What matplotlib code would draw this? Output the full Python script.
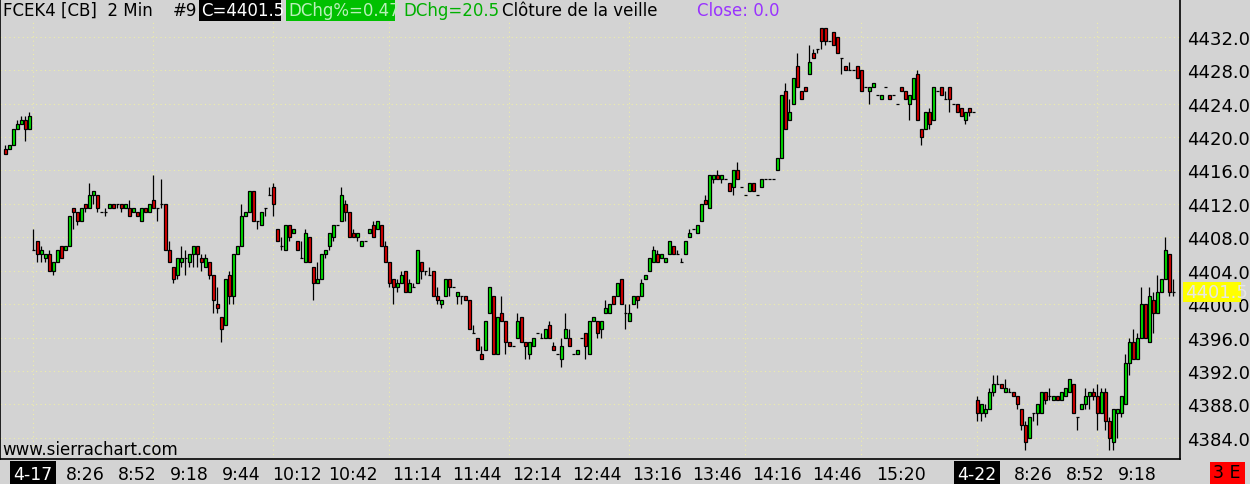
import matplotlib
matplotlib.use("Agg")
import matplotlib.pyplot as plt
from matplotlib.patches import Rectangle

plt.rcParams['font.family'] = ['Liberation Sans Narrow', 'DejaVu Sans']

# Données OHLC des barres de 2 minutes
opens = [
    4418.5, 4418.5, 4419.0, 4421.0, 4421.5, 4422.0, 4421.0, 4406.5, 4407.5, 4406.0,
    4405.5, 4406.0, 4404.0, 4405.0, 4407.0, 4406.5, 4407.0, 4411.5, 4411.0, 4410.0,
    4412.0, 4411.5, 4413.0, 4413.0, 4411.0, 4411.0, 4411.5, 4412.0, 4412.0, 4412.0,
    4411.5, 4411.5, 4411.0, 4411.0, 4410.0, 4411.5, 4411.0, 4412.5, 4411.5, 4412.0,
    4412.0, 4406.5, 4404.5, 4403.5, 4405.0, 4405.5, 4405.0, 4406.0, 4407.0, 4405.5,
    4404.5, 4405.0, 4403.5, 4400.0, 4398.5, 4397.5, 4403.5, 4401.0, 4406.0, 4407.0,
    4410.5, 4411.0, 4413.5, 4410.0, 4409.5, 4411.5, 4413.0, 4414.0, 4409.0, 4407.0,
    4406.5, 4409.5, 4408.5, 4407.5, 4405.5, 4405.0, 4408.0, 4404.5, 4402.5, 4403.0,
    4406.0, 4407.0, 4408.0, 4409.5, 4410.0, 4412.0, 4411.0, 4408.5, 4408.0, 4407.0,
    4407.5, 4408.5, 4409.5, 4409.0, 4409.5, 4407.0, 4405.0, 4403.0, 4402.0, 4402.5,
    4404.0, 4401.5, 4402.0, 4402.5, 4405.0, 4404.0, 4403.5, 4404.0, 4401.0, 4400.0,
    4401.0, 4403.0, 4402.0, 4401.0, 4401.0, 4401.0, 4400.5, 4396.5, 4396.0, 4394.0,
    4394.5, 4399.0, 4401.0, 4394.0, 4399.0, 4398.0, 4395.5, 4395.0, 4396.0, 4398.5,
    4395.5, 4394.0, 4395.0, 4396.5, 4396.0, 4396.0, 4397.5, 4395.0, 4394.0, 4393.5,
    4396.0, 4396.0, 4394.0, 4394.0, 4396.0, 4396.5, 4394.0, 4398.0, 4398.0, 4397.0,
    4399.0, 4399.0, 4401.0, 4401.0, 4403.0, 4399.0, 4398.0, 4400.0, 4401.0, 4401.0,
    4403.0, 4404.0, 4405.0, 4406.0, 4405.5, 4405.0, 4406.0, 4407.0, 4406.0, 4405.0,
    4406.0, 4408.0, 4409.0, 4408.5, 4410.0, 4412.5, 4411.5, 4415.0, 4415.5, 4415.0,
    4415.0, 4414.5, 4414.0, 4416.0, 4414.0, 4413.0, 4413.5, 4414.5, 4413.0, 4414.0,
    4415.0, 4415.0, 4415.0, 4416.0, 4417.5, 4425.5, 4422.0, 4424.0, 4428.5, 4425.5,
    4426.0, 4427.5, 4430.0, 4430.5, 4433.0, 4433.0, 4431.5, 4432.5, 4432.0, 4429.5,
    4428.5, 4428.0, 4428.0, 4428.5, 4428.0, 4426.0, 4425.5, 4426.0, 4425.0, 4424.5,
    4426.0, 4425.0, 4425.0, 4424.0, 4426.0, 4425.5, 4424.0, 4424.5, 4427.5, 4421.0,
    4421.0, 4423.0, 4422.0, 4425.5, 4426.0, 4424.5, 4426.0, 4424.0, 4424.0, 4423.5,
    4422.0, 4423.5, 4423.0, 4388.5, 4387.0, 4387.0, 4387.5, 4389.5, 4390.5, 4390.5,
    4389.5, 4389.5, 4389.5, 4389.0, 4387.5, 4385.5, 4384.0, 4387.0, 4387.0, 4387.0,
    4389.5, 4389.0, 4388.5, 4389.0, 4388.5, 4389.0, 4389.5, 4390.5, 4386.5, 4387.5,
    4388.0, 4389.0, 4389.5, 4389.0, 4387.0, 4389.5, 4386.0, 4383.5, 4387.0, 4387.0,
    4388.0, 4393.0, 4395.5, 4393.5, 4396.0, 4400.0, 4395.5, 4400.5, 4399.0, 4401.5,
    4403.0, 4406.0, 4401.5,
]
highs = [
    4419.0, 4419.0, 4421.0, 4422.0, 4422.5, 4422.5, 4423.0, 4409.0, 4407.5, 4407.0,
    4406.0, 4406.5, 4405.0, 4406.5, 4407.0, 4407.0, 4410.5, 4411.5, 4411.0, 4411.5,
    4412.0, 4414.5, 4413.5, 4413.0, 4411.0, 4411.5, 4412.0, 4412.0, 4412.0, 4412.0,
    4412.0, 4412.5, 4411.5, 4411.0, 4411.5, 4411.5, 4412.0, 4415.5, 4411.5, 4415.0,
    4412.0, 4407.5, 4404.5, 4405.5, 4407.0, 4406.5, 4406.0, 4407.0, 4407.0, 4406.0,
    4406.0, 4405.0, 4403.5, 4402.0, 4398.5, 4403.0, 4404.0, 4406.0, 4407.0, 4412.0,
    4411.0, 4413.5, 4413.5, 4410.0, 4411.0, 4411.5, 4414.0, 4414.5, 4409.0, 4408.0,
    4409.5, 4409.5, 4409.0, 4407.5, 4407.5, 4409.0, 4408.0, 4404.5, 4405.0, 4406.0,
    4406.5, 4408.5, 4409.5, 4409.5, 4414.0, 4412.5, 4411.0, 4409.0, 4408.5, 4407.5,
    4407.5, 4409.0, 4410.0, 4410.0, 4409.5, 4407.5, 4405.0, 4403.0, 4403.0, 4404.0,
    4404.0, 4403.0, 4402.5, 4406.5, 4405.0, 4404.0, 4404.5, 4404.0, 4402.0, 4400.5,
    4403.0, 4403.0, 4402.0, 4401.5, 4401.0, 4401.0, 4400.5, 4397.5, 4396.0, 4395.0,
    4398.0, 4402.0, 4401.0, 4398.5, 4401.0, 4398.0, 4395.5, 4395.0, 4399.0, 4398.5,
    4395.5, 4395.5, 4396.0, 4396.5, 4396.5, 4397.0, 4398.0, 4395.5, 4394.0, 4396.0,
    4399.0, 4397.0, 4394.0, 4394.5, 4396.0, 4396.5, 4398.0, 4398.5, 4398.0, 4398.0,
    4400.5, 4400.0, 4401.0, 4402.5, 4403.0, 4400.0, 4400.0, 4401.0, 4401.0, 4403.0,
    4403.5, 4405.5, 4407.0, 4406.5, 4406.0, 4405.5, 4407.5, 4407.0, 4406.5, 4405.5,
    4407.5, 4409.0, 4409.0, 4409.5, 4412.0, 4413.0, 4415.5, 4415.5, 4416.0, 4415.5,
    4415.0, 4414.5, 4416.0, 4417.0, 4414.0, 4413.0, 4414.5, 4414.5, 4413.0, 4415.0,
    4415.0, 4415.0, 4415.0, 4417.5, 4425.0, 4426.5, 4424.5, 4427.0, 4430.0, 4425.5,
    4426.0, 4431.0, 4430.5, 4430.5, 4433.0, 4433.0, 4431.5, 4432.5, 4432.0, 4429.5,
    4428.5, 4429.0, 4428.0, 4428.5, 4428.0, 4426.0, 4426.0, 4426.5, 4425.0, 4425.0,
    4426.0, 4425.0, 4425.0, 4424.0, 4426.0, 4425.5, 4425.0, 4427.0, 4428.0, 4421.0,
    4423.0, 4423.5, 4426.0, 4425.5, 4426.0, 4425.5, 4426.0, 4424.0, 4424.0, 4423.5,
    4423.0, 4423.5, 4423.0, 4389.0, 4388.0, 4388.0, 4390.0, 4391.5, 4391.5, 4390.5,
    4391.0, 4390.0, 4389.5, 4389.0, 4387.5, 4386.0, 4386.5, 4387.0, 4388.0, 4389.5,
    4389.5, 4390.0, 4389.0, 4389.0, 4389.5, 4390.0, 4391.0, 4390.5, 4386.5, 4388.0,
    4390.0, 4389.5, 4390.0, 4390.5, 4390.0, 4390.0, 4386.5, 4387.5, 4387.5, 4389.0,
    4394.0, 4396.0, 4397.0, 4396.5, 4402.0, 4400.0, 4402.0, 4401.5, 4403.5, 4403.0,
    4408.0, 4406.0, 4403.0,
]
lows = [
    4418.0, 4418.5, 4419.0, 4421.0, 4421.5, 4419.5, 4421.0, 4406.5, 4405.0, 4405.0,
    4405.0, 4404.0, 4403.5, 4405.0, 4405.5, 4406.5, 4407.0, 4409.0, 4409.5, 4410.0,
    4411.0, 4411.5, 4412.0, 4411.0, 4411.0, 4410.5, 4411.5, 4411.5, 4411.5, 4411.0,
    4411.5, 4410.5, 4411.0, 4410.5, 4410.0, 4411.0, 4411.0, 4411.5, 4410.0, 4411.5,
    4406.5, 4405.0, 4402.5, 4403.0, 4404.5, 4403.5, 4404.5, 4404.5, 4404.5, 4404.0,
    4404.5, 4403.0, 4399.0, 4399.0, 4395.5, 4397.5, 4400.0, 4400.0, 4406.0, 4407.0,
    4410.5, 4411.0, 4410.0, 4409.0, 4409.5, 4410.5, 4413.0, 4410.5, 4407.5, 4406.5,
    4406.5, 4407.5, 4408.5, 4406.5, 4405.5, 4405.0, 4405.0, 4400.5, 4402.5, 4403.0,
    4405.5, 4406.5, 4407.5, 4409.5, 4410.0, 4410.0, 4408.0, 4408.0, 4407.5, 4407.0,
    4407.5, 4408.5, 4408.0, 4409.0, 4407.0, 4405.0, 4402.0, 4400.0, 4401.5, 4402.5,
    4401.5, 4401.5, 4402.0, 4402.5, 4403.0, 4403.5, 4403.5, 4401.0, 4400.0, 4399.5,
    4401.0, 4401.0, 4402.0, 4400.0, 4400.0, 4400.5, 4397.0, 4396.5, 4394.5, 4393.5,
    4394.5, 4399.0, 4394.0, 4394.0, 4398.0, 4394.0, 4395.0, 4395.0, 4396.0, 4395.5,
    4393.5, 4393.5, 4395.0, 4396.5, 4396.0, 4396.0, 4396.0, 4394.5, 4394.0, 4392.5,
    4396.0, 4395.0, 4394.0, 4394.0, 4396.0, 4393.5, 4394.0, 4398.0, 4396.0, 4396.0,
    4399.0, 4399.0, 4400.0, 4401.0, 4400.0, 4397.0, 4398.0, 4400.0, 4399.5, 4401.0,
    4403.0, 4404.0, 4405.0, 4405.0, 4405.5, 4405.0, 4406.0, 4406.0, 4406.0, 4405.0,
    4406.0, 4408.0, 4409.0, 4408.5, 4410.0, 4412.0, 4411.5, 4414.5, 4415.0, 4414.5,
    4415.0, 4413.5, 4413.0, 4415.0, 4414.0, 4413.0, 4413.5, 4413.5, 4413.0, 4414.0,
    4415.0, 4415.0, 4415.0, 4416.0, 4417.5, 4421.0, 4422.0, 4424.0, 4426.0, 4424.5,
    4425.5, 4427.5, 4429.5, 4430.0, 4430.5, 4431.0, 4431.5, 4431.0, 4430.0, 4427.5,
    4428.0, 4428.0, 4428.0, 4427.0, 4425.5, 4426.0, 4424.0, 4426.0, 4425.0, 4424.5,
    4426.0, 4424.5, 4425.0, 4424.0, 4425.5, 4424.5, 4422.0, 4424.5, 4422.0, 4419.0,
    4421.0, 4421.0, 4422.0, 4425.5, 4425.0, 4424.5, 4423.0, 4424.0, 4423.0, 4422.5,
    4421.5, 4422.5, 4423.0, 4386.0, 4386.0, 4386.5, 4387.5, 4389.0, 4390.5, 4390.0,
    4389.5, 4389.5, 4389.0, 4387.5, 4385.0, 4382.5, 4384.0, 4386.0, 4385.5, 4387.0,
    4388.0, 4388.5, 4388.5, 4388.5, 4388.5, 4389.0, 4389.5, 4387.0, 4385.0, 4387.5,
    4387.5, 4387.5, 4388.5, 4385.0, 4387.0, 4385.0, 4382.5, 4382.5, 4384.0, 4386.5,
    4388.0, 4391.5, 4393.5, 4393.5, 4396.0, 4396.0, 4395.5, 4396.5, 4399.0, 4401.5,
    4403.0, 4401.0, 4401.0,
]
closes = [
    4418.0, 4419.0, 4421.0, 4421.5, 4422.0, 4421.0, 4422.5, 4406.5, 4406.0, 4406.5,
    4406.0, 4404.0, 4405.0, 4406.5, 4405.5, 4407.0, 4410.5, 4411.0, 4410.0, 4411.5,
    4411.5, 4413.0, 4413.5, 4411.5, 4411.0, 4411.0, 4412.0, 4411.5, 4412.0, 4411.5,
    4412.0, 4410.5, 4411.5, 4410.5, 4411.5, 4411.0, 4412.0, 4411.5, 4411.5, 4412.0,
    4406.5, 4405.0, 4403.0, 4405.5, 4405.5, 4405.5, 4406.0, 4407.0, 4406.0, 4405.0,
    4405.5, 4403.5, 4400.5, 4399.5, 4397.0, 4403.0, 4401.0, 4406.0, 4407.0, 4410.5,
    4411.0, 4413.5, 4410.0, 4410.0, 4411.0, 4411.5, 4413.0, 4412.0, 4407.5, 4407.0,
    4409.5, 4408.0, 4409.0, 4406.5, 4405.5, 4408.5, 4405.0, 4402.5, 4403.0, 4406.0,
    4406.5, 4408.5, 4409.5, 4409.5, 4413.0, 4411.0, 4408.0, 4408.0, 4408.5, 4407.5,
    4407.5, 4409.0, 4408.0, 4410.0, 4407.0, 4405.0, 4402.5, 4402.0, 4402.5, 4403.5,
    4401.5, 4402.5, 4402.0, 4406.5, 4404.0, 4404.0, 4403.5, 4401.0, 4400.5, 4400.5,
    4403.0, 4402.0, 4402.0, 4401.5, 4401.0, 4400.5, 4397.0, 4396.5, 4394.5, 4393.5,
    4398.0, 4402.0, 4394.0, 4398.5, 4398.0, 4395.5, 4395.0, 4395.0, 4398.0, 4395.5,
    4395.0, 4395.5, 4396.0, 4396.5, 4396.0, 4397.0, 4396.0, 4394.5, 4394.0, 4395.0,
    4397.0, 4395.0, 4394.0, 4394.5, 4396.0, 4395.0, 4398.0, 4398.5, 4396.5, 4398.0,
    4399.5, 4400.0, 4400.0, 4402.5, 4400.0, 4399.0, 4399.0, 4401.0, 4400.5, 4402.5,
    4403.5, 4405.5, 4406.5, 4405.0, 4406.0, 4405.5, 4407.5, 4406.0, 4406.0, 4405.0,
    4407.5, 4408.5, 4409.0, 4409.5, 4412.0, 4412.0, 4415.5, 4415.5, 4415.0, 4415.5,
    4415.0, 4413.5, 4416.0, 4415.0, 4414.0, 4413.0, 4414.5, 4413.5, 4413.0, 4415.0,
    4415.0, 4415.0, 4415.0, 4417.5, 4425.0, 4421.0, 4423.0, 4427.0, 4426.0, 4424.5,
    4425.5, 4429.0, 4429.5, 4430.5, 4431.5, 4431.5, 4431.5, 4431.0, 4430.0, 4429.5,
    4428.0, 4428.0, 4428.0, 4427.0, 4425.5, 4426.0, 4426.0, 4426.5, 4425.0, 4425.0,
    4426.0, 4424.5, 4425.0, 4424.0, 4425.5, 4424.5, 4425.0, 4427.0, 4422.0, 4420.0,
    4423.0, 4421.5, 4426.0, 4425.5, 4425.0, 4424.5, 4424.5, 4424.0, 4423.0, 4422.5,
    4423.0, 4423.0, 4423.0, 4387.0, 4388.0, 4387.5, 4389.5, 4390.5, 4390.5, 4390.0,
    4390.0, 4389.5, 4389.0, 4388.0, 4385.5, 4383.5, 4386.5, 4387.0, 4388.0, 4389.5,
    4388.5, 4389.0, 4389.0, 4388.5, 4389.5, 4390.0, 4391.0, 4387.0, 4386.5, 4388.0,
    4389.0, 4389.5, 4389.0, 4387.0, 4389.5, 4386.0, 4384.0, 4387.5, 4387.5, 4389.0,
    4393.0, 4395.5, 4393.5, 4396.0, 4400.0, 4396.0, 4401.0, 4399.0, 4401.5, 4403.0,
    4406.5, 4401.5, 4401.5,
]

# Étiquettes de l'axe du temps et barres correspondantes
time_labels = ["4-17", "8:26", "8:52", "9:18", "9:44", "10:12", "10:42", "11:14",
               "11:44", "12:14", "12:44", "13:16", "13:46", "14:16", "14:46",
               "15:20", "4-22", "8:26", "8:52", "9:18"]
time_label_bars = [7, 20, 33, 46, 59, 73, 87, 103, 118, 133, 148, 163, 178, 193,
                   208, 224, 243, 257, 270, 283]
hour_bars = [7, 37, 67, 96, 126, 156, 185, 214, 243, 273]
price_ticks = [4384, 4388, 4392, 4396, 4400, 4404, 4408, 4412, 4416, 4420,
               4424, 4428, 4432]
last_price = 4401.5

W, H = 1250, 485
BG = '#d3d3d3'
UP = '#00e800'
DOWN = '#e00000'
GRID = '#eeeea8'

fig = plt.figure(figsize=(W / 100, H / 100), dpi=100, facecolor=BG)
ax = fig.add_axes([0, 25 / H, 1180 / W, 460 / H], facecolor=BG)


def box(x0, y0, x1, y1, color):
    # rectangle en pixels (origine en haut à gauche)
    fig.add_artist(Rectangle((x0 / W, 1 - y1 / H), (x1 - x0) / W, (y1 - y0) / H,
                             transform=fig.transFigure, color=color, lw=0, zorder=5))


def label(x, y, s, color='black', size=12, ha='left'):
    fig.text(x / W, 1 - y / H, s, color=color, fontsize=size, ha=ha, va='center',
             zorder=6)


# Grille pointillée jaune pâle
for p in price_ticks:
    ax.axhline(p, color=GRID, lw=0.8, ls=(0, (1, 3)), zorder=0)
for b in hour_bars:
    ax.axvline(b, color=GRID, lw=0.8, ls=(0, (1, 3)), zorder=0)

# Bandeau du titre qui masque la grille
ax.add_patch(Rectangle((0, 1 - 21 / 460), 1, 21 / 460, transform=ax.transAxes,
                       color=BG, lw=0, zorder=1))

# Chandeliers
n = len(closes)
xs = list(range(n))
ax.vlines(xs, lows, highs, color='black', lw=0.9, zorder=2)
bottoms = [min(o, c) for o, c in zip(opens, closes)]
heights = [abs(c - o) for o, c in zip(opens, closes)]
colors = [UP if c > o else DOWN for o, c in zip(opens, closes)]
ax.bar(xs, heights, bottom=bottoms, width=0.75, color=colors, edgecolor='black',
       linewidth=0.9, zorder=3)

ax.set_xlim(-1.25, 293.75)
ax.set_ylim(4381.48, 4436.5)

# Axe des prix à droite
ax.yaxis.tick_right()
ax.set_yticks(price_ticks)
ax.set_yticklabels([f'{p:.1f}' for p in price_ticks], fontsize=13)
ax.tick_params(axis='y', length=0, pad=5)

# Axe du temps
ax.set_xticks(time_label_bars)
ax.set_xticklabels(time_labels, fontsize=12.5)
ax.tick_params(axis='x', length=0, pad=4)
for t in ax.get_xticklabels():
    if t.get_text().startswith('4-'):
        t.set_color('white')
        t.set_bbox(dict(facecolor='black', edgecolor='none', pad=2.5))

ax.spines['top'].set_visible(False)
for side in ['left', 'right', 'bottom']:
    ax.spines[side].set_color('black')
    ax.spines[side].set_linewidth(1.2)

# En-tête
label(3, 11, 'FCEK4 [CB]  2 Min')
label(173, 11, '#9')
box(199, 1, 281, 22, 'black')
label(201, 11, f'C={last_price}', color='white')
box(286, 1, 395, 22, '#00c000')
label(288, 11, 'DChg%=0.47', color='#b8f0b8')
label(403, 11, 'DChg=20.5', color='#00b000')
label(502, 11, 'Clôture de la veille')
label(697, 11, 'Close: 0.0', color='#9933ff')

# Étiquette du dernier prix
y_last = 238.3 + (4408 - last_price) * 8.36
box(1183, y_last - 10, 1241, y_last + 10, '#ffff00')
label(1185, y_last, f'{last_price}', color='#e6e6e6', size=13)

label(2, 450, 'www.sierrachart.com', size=12)

box(1210, 463, 1245, 485, '#ff0000')
label(1227, 473, '3 E', size=12.5, ha='center')

fig.savefig('out.png', dpi=100, facecolor=BG)
